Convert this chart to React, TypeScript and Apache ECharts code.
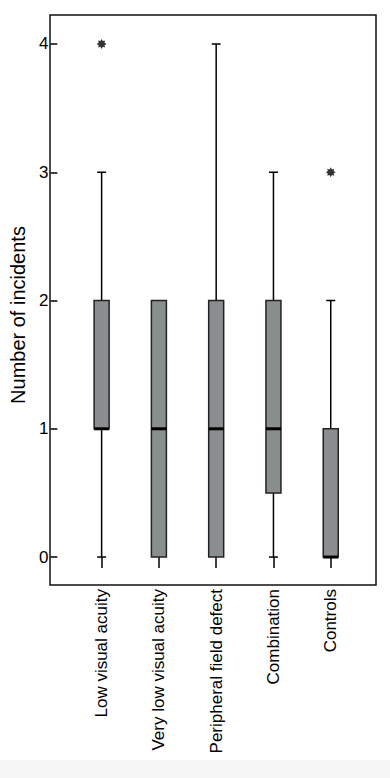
import React, { useEffect, useRef } from "react";
import * as echarts from "echarts";

const categories = [
  "Low visual acuity",
  "Very low visual acuity",
  "Peripheral field defect",
  "Combination",
  "Controls",
];
const whiskerLow = [0, 0, 0, 0, 0];
const quartile1 = [1, 0, 0, 0.5, 0];
const medians = [1, 1, 1, 1, 0];
const quartile3 = [2, 2, 2, 2, 1];
const whiskerHigh = [3, 2, 4, 3, 2];
const outlierCategories = ["Low visual acuity", "Controls"];
const outlierValues = [4, 3];
const yTicks = [0, 1, 2, 3, 4];

const FONT = "Arial, 'Liberation Sans', Helvetica, sans-serif";

const starPath = (() => {
  const pts: string[] = [];
  for (let k = 0; k < 16; k++) {
    const a = (k * Math.PI) / 8;
    const r = k % 2 === 0 ? 10 : 6.2;
    pts.push(`${(r * Math.cos(a)).toFixed(2)} ${(r * Math.sin(a)).toFixed(2)}`);
  }
  return "path://M" + pts.join(" L") + " Z";
})();

export default function App() {
  const ref = useRef<HTMLDivElement>(null);
  useEffect(() => {
    document.body.style.margin = "0";
    const chart = echarts.init(ref.current!, undefined, { renderer: "svg" });
    const boxData = categories.map((_, i) => [
      i,
      whiskerLow[i],
      quartile1[i],
      medians[i],
      quartile3[i],
      whiskerHigh[i],
    ]);
    const option: any = {
      animation: false,
      backgroundColor: "#ffffff",
      grid: { left: 65.625, right: 30.625, top: 15, bottom: 193, containLabel: false },
      xAxis: {
        type: "category",
        data: categories,
        boundaryGap: true,
        axisLine: { show: false },
        axisTick: {
          show: true,
          alignWithLabel: true,
          length: 11,
          lineStyle: { color: "#000", width: 1.5 },
        },
        axisLabel: {
          rotate: 90,
          margin: 4,
          fontSize: 17,
          color: "#000",
          fontFamily: FONT,
          interval: 0,
        },
        splitLine: { show: false },
      },
      yAxis: {
        type: "value",
        min: -0.218,
        max: 4.226,
        offset: 15.625,
        name: "Number of incidents",
        nameLocation: "middle",
        nameGap: 20,
        nameRotate: 90,
        nameTextStyle: {
          fontSize: 20,
          color: "#000",
          fontFamily: FONT,
          padding: [0, 30, 0, 0],
        },
        axisLine: { show: false },
        axisTick: {
          show: true,
          length: 7,
          customValues: yTicks,
          lineStyle: { color: "#000", width: 1.5 },
        },
        axisLabel: {
          customValues: yTicks,
          margin: 9,
          fontSize: 17,
          color: "#000",
          fontFamily: FONT,
        },
        splitLine: { show: false },
      },
      graphic: [
        {
          type: "rect",
          shape: { x: 0, y: 760, width: 390, height: 18 },
          style: { fill: "#f7f7f7" },
          z: -10,
        },
        {
          type: "rect",
          shape: { x: 50, y: 15, width: 326, height: 570 },
          style: { fill: "none", stroke: "#111", lineWidth: 1.5 },
          z: 100,
        },
      ],
      series: [
        {
          type: "custom",
          data: boxData,
          encode: { x: 0, y: [1, 2, 3, 4, 5] },
          renderItem: (params: any, api: any) => {
            const idx = api.value(0);
            const pLow = api.coord([idx, api.value(1)]);
            const pQ1 = api.coord([idx, api.value(2)]);
            const pMed = api.coord([idx, api.value(3)]);
            const pQ3 = api.coord([idx, api.value(4)]);
            const pHigh = api.coord([idx, api.value(5)]);
            const cx = pQ1[0];
            const halfBox = 7.5;
            const halfCap = 4.5;
            const children: any[] = [];
            const lineStyle = { stroke: "#000", lineWidth: 1.5 };
            if (api.value(5) > api.value(4)) {
              children.push({
                type: "line",
                shape: { x1: cx, y1: pQ3[1], x2: cx, y2: pHigh[1] },
                style: lineStyle,
              });
              children.push({
                type: "line",
                shape: { x1: cx - halfCap, y1: pHigh[1], x2: cx + halfCap, y2: pHigh[1] },
                style: lineStyle,
              });
            }
            if (api.value(1) < api.value(2)) {
              children.push({
                type: "line",
                shape: { x1: cx, y1: pQ1[1], x2: cx, y2: pLow[1] },
                style: lineStyle,
              });
              children.push({
                type: "line",
                shape: { x1: cx - halfCap, y1: pLow[1], x2: cx + halfCap, y2: pLow[1] },
                style: lineStyle,
              });
            }
            children.push({
              type: "rect",
              shape: {
                x: cx - halfBox,
                y: pQ3[1],
                width: halfBox * 2,
                height: pQ1[1] - pQ3[1],
              },
              style: { fill: "#8b8e8e", stroke: "#222", lineWidth: 1.5 },
            });
            children.push({
              type: "line",
              shape: { x1: cx - halfBox, y1: pMed[1], x2: cx + halfBox, y2: pMed[1] },
              style: { stroke: "#000", lineWidth: 3 },
            });
            return { type: "group", children };
          },
          z: 2,
        },
        {
          type: "scatter",
          data: outlierCategories.map((c, i) => [c, outlierValues[i]]),
          symbol: starPath,
          symbolSize: 10,
          itemStyle: { color: "#000" },
          z: 3,
        },
      ],
    };
    chart.setOption(option);
    return () => chart.dispose();
  }, []);
  return (
    <div
      ref={ref}
      style={{ position: "absolute", left: 0, top: 0, width: 390, height: 778 }}
    />
  );
}
